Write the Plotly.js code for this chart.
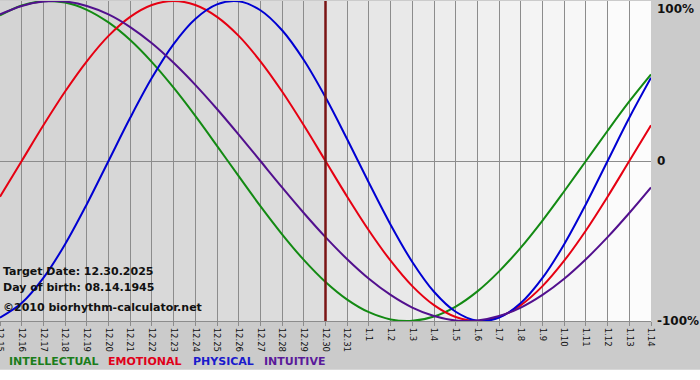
<!DOCTYPE html>
<html>
<head>
<meta charset="utf-8">
<script src="https://cdn.plot.ly/plotly-3.0.1.min.js"></script>
<style>
  html, body { margin: 0; padding: 0; background: #ffffff; }
  #chart { width: 700px; height: 380px; }
</style>
</head>
<body>
<div id="chart"></div>
<script>
// ---- data ----
const days = ['12.15','12.16','12.17','12.18','12.19','12.20','12.21','12.22','12.23','12.24',
  '12.25','12.26','12.27','12.28','12.29','12.30','12.31','1.1','1.2','1.3','1.4','1.5',
  '1.6','1.7','1.8','1.9','1.10','1.11','1.12','1.13','1.14'];

const intellectual = [0.910, 0.972, 0.999, 0.990, 0.945, 0.866, 0.756, 0.618, 0.458, 0.282, 0.095, -0.095,
  -0.282, -0.458, -0.618, -0.756, -0.866, -0.945, -0.990, -0.999, -0.972, -0.910, -0.815, -0.690, -0.541,
  -0.372, -0.189, 0.000, 0.189, 0.372, 0.541];

const emotional = [-0.223, 0.000, 0.223, 0.434, 0.623, 0.782, 0.901, 0.975, 1.000, 0.975, 0.901, 0.782,
  0.623, 0.434, 0.223, 0.000, -0.223, -0.434, -0.623, -0.782, -0.901, -0.975, -1.000, -0.975, -0.901,
  -0.782, -0.623, -0.434, -0.223, 0.000, 0.223];

const physical = [-0.979, -0.888, -0.731, -0.520, -0.270, 0.000, 0.270, 0.520, 0.731, 0.888, 0.979, 0.998,
  0.942, 0.817, 0.631, 0.398, 0.136, -0.136, -0.398, -0.631, -0.817, -0.942, -0.998, -0.979, -0.888,
  -0.731, -0.520, -0.270, 0.000, 0.270, 0.520];

const intuitive = [0.916, 0.969, 0.997, 0.997, 0.969, 0.916, 0.837, 0.736, 0.614, 0.476, 0.325, 0.165,
  0.000, -0.165, -0.325, -0.476, -0.614, -0.736, -0.837, -0.916, -0.969, -0.997, -0.997, -0.969, -0.916,
  -0.837, -0.736, -0.614, -0.476, -0.325, -0.165];

const seriesNames = ['INTELLECTUAL', 'EMOTIONAL', 'PHYSICAL', 'INTUITIVE'];
const yTickVals = [1, 0, -1];
const yTickText = ['100%', '0', '-100%'];
const targetDay = '12.30';
const infoLines = ['Target Date: 12.30.2025', 'Day of birth: 08.14.1945', '\u00a92010 biorhythm-calculator.net'];

// ---- styling ----
const lineColors = ['#138a13', '#e60012', '#0000d2', '#52108e'];
const legendColors = ['#1b7d1b', '#e0001a', '#1a1acc', '#5a1a9a'];
const seriesValues = [intellectual, emotional, physical, intuitive];

const traces = seriesValues.map((vals, i) => ({
  type: 'scatter', mode: 'lines', x: days, y: vals, name: seriesNames[i],
  line: { color: lineColors[i], width: 2, shape: 'spline', smoothing: 1 },
  hoverinfo: 'skip', showlegend: false
}));

const n = days.length;
const tIdx = days.indexOf(targetDay);
const shapes = [];
function grey(v) { const h = Math.round(v).toString(16).padStart(2, '0'); return '#' + h + h + h; }
for (let i = 0; i < tIdx; i++) {
  shapes.push({ type: 'rect', layer: 'below', xref: 'x', yref: 'paper', x0: i, x1: i + 1, y0: 0, y1: 1,
    fillcolor: grey(212 + 10 * i / tIdx), line: { width: 0 } });
}
for (let i = tIdx; i < n - 1; i++) {
  const f = (i - tIdx) / (n - 1 - tIdx);
  shapes.push({ type: 'rect', layer: 'below', xref: 'x', yref: 'paper', x0: i, x1: i + 1, y0: 0, y1: 1,
    fillcolor: grey(228 + 26 * f), line: { width: 0 } });
}
shapes.push({ type: 'rect', layer: 'below', xref: 'paper', yref: 'paper', x0: -0.01, x1: 1.1, y0: -0.25, y1: -0.152,
  fillcolor: '#ffffff', line: { width: 0 } });
shapes.push({ type: 'line', xref: 'x', yref: 'paper', x0: tIdx, x1: tIdx, y0: 0, y1: 1,
  line: { color: '#7a1414', width: 2.5 } });

const annotations = [];
yTickVals.forEach((v, i) => {
  annotations.push({ xref: 'paper', yref: 'y', x: 1, y: v, xanchor: 'left', xshift: 4,
    yanchor: v === 1 ? 'top' : 'middle', yshift: v === 1 ? 1 : 0,
    text: '<b>' + yTickText[i] + '</b>', showarrow: false,
    font: { family: 'DejaVu Sans', size: 12, color: '#111' } });
});
const infoY = [-0.69, -0.79, -0.915];
infoLines.forEach((t, i) => {
  annotations.push({ xref: 'paper', yref: 'y', x: 0.002, y: infoY[i], xanchor: 'left', yanchor: 'middle',
    text: '<b>' + t + '</b>', showarrow: false, font: { family: 'DejaVu Sans', size: 11, color: '#111' } });
});
const legendX = [7, 106, 191, 262];
seriesNames.forEach((name, i) => {
  annotations.push({ xref: 'paper', yref: 'paper', x: legendX[i] / 651, y: -0.125, xanchor: 'left', yanchor: 'middle',
    text: '<b>' + name + '</b>', showarrow: false, font: { family: 'DejaVu Sans', size: 11, color: legendColors[i] } });
});

const layout = {
  width: 700, height: 380,
  margin: { l: 0, r: 49, t: 1, b: 59, autoexpand: false },
  paper_bgcolor: '#cbcbcb', plot_bgcolor: 'rgba(0,0,0,0)',
  showlegend: false,
  xaxis: {
    type: 'category', range: [0, n - 1], fixedrange: true,
    showgrid: true, gridcolor: '#8c8c8c', gridwidth: 1,
    showline: true, linecolor: '#8c8c8c', linewidth: 1,
    ticks: 'outside', ticklen: 4, tickcolor: '#8c8c8c', tickangle: 90,
    tickfont: { family: 'DejaVu Sans', size: 8.5, color: '#111' },
    zeroline: false
  },
  yaxis: {
    range: [-1, 1], fixedrange: true, showgrid: false, showticklabels: false, ticks: '',
    zeroline: true, zerolinecolor: '#8c8c8c', zerolinewidth: 1, showline: false
  },
  shapes: shapes,
  annotations: annotations
};

Plotly.newPlot('chart', traces, layout, { staticPlot: true, displayModeBar: false });
</script>
</body>
</html>
